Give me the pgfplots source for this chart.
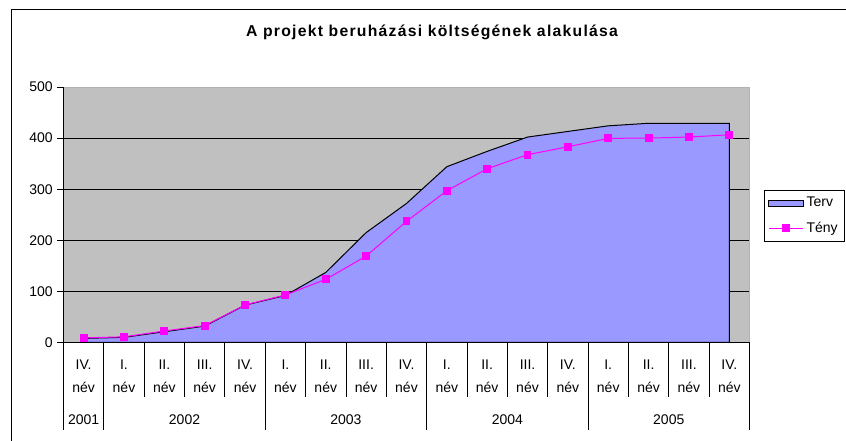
\documentclass[border=0pt]{standalone}
\usepackage{pgfplots}
\pgfplotsset{compat=1.18}
\usepackage{pgfplotstable}
\usepackage{fontspec}
\setmainfont{Liberation Sans}
\newfontfamily\titlefont[LetterSpace=8]{Liberation Sans}

\definecolor{plotbg}{HTML}{C0C0C0}
\definecolor{terv}{HTML}{9999FF}
\definecolor{teny}{HTML}{FF00FF}

\pgfplotsset{
  tervlegend/.style={legend image code/.code={\draw[##1] (0pt,-2.25pt) rectangle (26pt,2.25pt);}},
  tenylegend/.style={legend image code/.code={\draw[##1, mark repeat=2, mark phase=2]
        plot coordinates {(0pt,0pt) (13pt,0pt) (26pt,0pt)};}},
}

% negyedéves adatok (millió Ft)
\pgfplotstableread{
x  terv  teny
0  8     9
1  10    11
2  21    22.5
3  32    33
4  73    73.5
5  92    93
6  137   123.5
7  215   169
8  272   237
9  344   297
10 374   340
11 402   367.5
12 413   383
13 424   399.5
14 429   400
15 429   402
16 429   406.5
}\koltseg

\newcommand\q[1]{#1\\[4.5pt]név}

\begin{document}
\begin{tikzpicture}
\path[use as bounding box] (0pt,0pt) rectangle (634.5pt,330.75pt);
\draw[line width=0.75pt] (8.25pt,-5pt) -- (8.25pt,323.6pt) -- (640pt,323.6pt);
\node[font=\titlefont\bfseries\fontsize{11.8}{14}\selectfont] at (324pt,306.8pt)
  {A projekt beruházási költségének alakulása};

\begin{axis}[
    at={(47.6pt,73.9pt)}, anchor=south west,
    scale only axis,
    width=514.5pt, height=191.6pt,
    xmin=-0.5, xmax=16.5,
    ymin=0, ymax=500,
    clip=false,
    axis x line*=bottom,
    axis y line*=left,
    axis line style={black, line width=0.75pt},
    axis background/.style={fill=plotbg, draw=gray!60},
    font=\fontsize{10.5}{12.5}\selectfont,
    ytick={0,100,...,400},
    extra y ticks={500},
    extra y tick style={grid=none},
    ymajorgrids,
    major grid style={black, line width=0.6pt},
    tick align=outside,
    major tick length=4.5pt,
    ytick style={black, line width=0.6pt},
    /pgf/number format/assume math mode=true,
    xtick={0,...,16},
    xtick style={draw=none},
    xticklabels={\q{IV.},\q{I.},\q{II.},\q{III.},\q{IV.},\q{I.},\q{II.},\q{III.},\q{IV.},
                 \q{I.},\q{II.},\q{III.},\q{IV.},\q{I.},\q{II.},\q{III.},\q{IV.}},
    xticklabel style={align=center, anchor=center, yshift=-20.6pt},
    legend style={at={(1,1)}, anchor=north west, xshift=10.9pt, yshift=-77.5pt,
                  draw=black, fill=white, font=\fontsize{10.5}{12.5}\selectfont,
                  row sep=6pt, inner xsep=3pt, inner ysep=3pt},
    legend cell align=left,
]
\addplot[fill=terv, draw=black, line width=0.75pt, tervlegend]
    table[x=x, y=terv] {\koltseg} \closedcycle;
\addlegendentry{Terv}
\addplot[teny, line width=0.75pt, mark=square*, mark size=2.6pt,
    mark options={fill=teny, draw=teny}, tenylegend]
    table[x=x, y=teny] {\koltseg};
\addlegendentry{Tény\hspace{12pt}}

% kategória- és évelválasztó vonalak
\pgfplotsinvokeforeach{1.5,2.5,3.5,5.5,6.5,7.5,9.5,10.5,11.5,13.5,14.5,15.5}{
  \draw[black, line width=0.6pt] (axis cs:#1,0) -- ++(0pt,-40.9pt);
}
\pgfplotsinvokeforeach{-0.5,0.5,4.5,8.5,12.5,16.5}{
  \draw[black, line width=0.6pt] (axis cs:#1,0) -- ++(0pt,-65.6pt);
}
\node at (axis cs:0,0)    [yshift=-57.8pt] {2001};
\node at (axis cs:2.5,0)  [yshift=-57.8pt] {2002};
\node at (axis cs:6.5,0)  [yshift=-57.8pt] {2003};
\node at (axis cs:10.5,0) [yshift=-57.8pt] {2004};
\node at (axis cs:14.5,0) [yshift=-57.8pt] {2005};
\end{axis}
\end{tikzpicture}
\end{document}
